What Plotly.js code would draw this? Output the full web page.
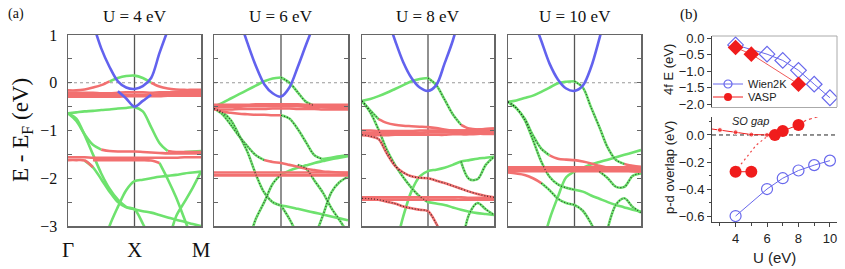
<!DOCTYPE html>
<html><head><meta charset="utf-8">
<script src="https://cdn.plot.ly/plotly-3.0.1.min.js"></script>
<style>html,body{margin:0;padding:0;background:#fff}#g{width:845px;height:269px}</style>
</head><body><div id="g"></div>
<script>
const _ = null;
// k-path grid: Γ=0, X=1, M=2
const K = [0,0.125,0.25,0.375,0.5,0.625,0.75,0.875,1,1.125,1.25,1.375,1.5,1.625,1.75,1.875,2];
const kLabels = ['Γ','X','M'];
const panelTitles = ['U = 4 eV','U = 6 eV','U = 8 eV','U = 10 eV'];
const eTicks = [-3,-2,-1,0,1];

// ---------- U = 4 eV ----------
const u4Blue = [
 [_,_,_,1.25,0.72,0.33,0.03,-0.10,-0.13,-0.07,0.10,0.62,1.10,_,_,_,_],
 [_,_,_,_,_,_,-0.18,-0.33,-0.50,-0.38,-0.25,_,_,_,_,_,_]
];
const u4Green = [
 [_,_,_,_,_,0.03,0.10,0.14,0.15,0.10,0.00,_,_,_,_,_,_],
 [-0.64,-0.62,-0.60,-0.59,-0.57,-0.56,-0.54,-0.53,-0.51,-0.60,-0.93,-1.26,-1.43,_,_,_,_],
 [-0.64,-0.80,-1.08,-1.30,-1.40,_,_,_,_,_,_,_,_,_,_,_,_],
 [_,_,_,_,_,_,_,_,_,_,_,-1.68,-2.02,-2.40,-2.85,-3.30,_],
 [_,_,-1.63,-1.77,-2.02,-2.28,-2.50,-2.61,-2.65,-2.69,-2.72,-2.77,-2.82,-2.87,-2.91,-2.96,-3.00],
 [-0.64,-0.75,-1.10,-1.50,-1.90,-2.22,-2.45,-2.60,-2.65,-2.95,-3.30,_,_,_,_,_,_],
 [_,_,_,_,-3.60,-3.00,-2.60,-2.25,-2.06,-2.03,-2.00,-1.97,-1.95,-1.93,-1.90,-1.88,-1.86],
 [_,_,_,_,_,_,_,_,_,_,_,_,-3.40,-2.80,-2.50,-2.20,-1.86],
 [_,_,_,_,_,_,_,_,_,_,_,_,_,_,-1.45,-1.44,-1.43]
];
const u4Red = [
 [-0.16,-0.16,-0.14,-0.10,-0.05,0.03,_,_,_,_,_,_,_,_,_,_,_],
 [_,_,_,_,_,_,_,_,_,_,0.00,-0.08,-0.12,-0.14,-0.15,-0.15,-0.15],
 [-0.21,-0.21,-0.21,-0.21,-0.22,-0.22,-0.21,-0.20,-0.20,-0.20,-0.21,-0.20,-0.20,-0.19,-0.19,-0.19,-0.19],
 [-0.25,-0.25,-0.25,-0.26,-0.26,-0.26,-0.25,-0.25,-0.25,-0.25,-0.25,-0.24,-0.24,-0.24,-0.24,-0.23,-0.23],
 [-0.29,-0.29,-0.29,-0.29,-0.29,-0.29,-0.29,-0.28,-0.28,-0.28,-0.28,-0.28,-0.27,-0.27,-0.27,-0.27,-0.27],
 [_,_,_,_,_,_,_,_,_,_,_,_,-1.43,-1.45,-1.45,-1.45,-1.45],
 [_,_,_,_,-1.40,-1.43,-1.44,-1.44,-1.44,-1.45,-1.46,-1.47,-1.48,-1.48,-1.48,-1.48,-1.48],
 [-1.56,-1.56,-1.56,-1.57,-1.57,-1.57,-1.57,-1.57,-1.57,-1.57,-1.57,-1.57,-1.57,-1.57,-1.56,-1.56,-1.56],
 [_,_,_,-1.62,-1.62,-1.62,-1.62,-1.62,-1.62,-1.62,-1.63,-1.68,_,_,_,_,_],
 [-1.62,-1.62,-1.63,-1.77,_,_,_,_,_,_,_,_,_,_,_,_,_]
];

// ---------- U = 6 eV ----------
const u6Blue = [
 [_,_,_,1.35,0.83,0.35,-0.03,-0.22,-0.29,-0.10,0.33,0.80,1.25,_,_,_,_]
];
const u6Green = [
 [-0.50,-0.42,-0.33,-0.24,-0.15,-0.06,0.03,0.09,0.11,_,_,_,_,_,_,_,_],
 [_,_,_,_,_,_,_,_,_,_,_,_,_,-1.60,-1.57,-1.54,-1.52],
 [_,_,_,_,_,_,_,_,-2.57,-2.60,-2.64,-2.68,-2.72,-2.76,-2.80,-2.84,-2.88],
 [_,_,_,_,_,_,_,_,-1.92,-1.84,-1.78,-1.73,-1.68,-1.64,-1.60,-1.57,-1.54]
];
const u6Dark = [
 [_,_,_,_,_,_,_,_,0.11,0.00,-0.20,-0.40,-0.48,_,_,_,_],
 [_,_,_,_,_,_,_,_,-0.68,-0.75,-0.97,-1.25,-1.52,-1.60,_,_,_],
 [-0.54,-0.66,-0.88,-1.12,-1.33,-1.52,-1.62,_,_,_,_,_,_,_,_,_,_],
 [-0.54,-0.62,-0.78,-1.10,-1.45,-1.92,-2.30,-2.50,-2.57,_,_,_,_,_,_,_,_],
 [_,_,_,_,-3.40,-2.85,-2.50,-2.12,-1.92,_,_,_,_,_,_,_,_],
 [_,_,_,_,_,_,_,_,_,_,_,_,-3.25,-2.78,-2.30,-2.08,-1.97],
 [_,_,_,_,_,_,_,_,-2.57,-2.85,-3.20,_,_,_,_,_,_],
 [_,_,_,_,_,_,_,_,_,_,-1.72,-1.80,-2.05,-2.30,-2.62,-2.88,-3.15]
];
const u6Red = [
 [_,_,_,_,_,_,_,_,_,_,_,_,-0.48,-0.51,-0.52,-0.52,-0.52],
 [-0.46,-0.46,-0.46,-0.46,-0.46,-0.45,-0.45,-0.45,-0.45,-0.45,-0.45,-0.46,-0.46,-0.46,-0.46,-0.46,-0.46],
 [-0.50,-0.50,-0.50,-0.50,-0.49,-0.49,-0.49,-0.49,-0.49,-0.49,-0.49,-0.50,-0.50,-0.50,-0.50,-0.50,-0.50],
 [-0.56,-0.56,-0.56,-0.55,-0.55,-0.55,-0.55,-0.54,-0.54,-0.54,-0.55,-0.55,-0.55,-0.56,-0.56,-0.56,-0.56],
 [-0.54,-0.60,-0.63,-0.65,-0.66,-0.67,-0.67,-0.68,-0.68,_,_,_,_,_,_,_,_],
 [_,_,_,_,_,_,-1.62,-1.66,-1.68,-1.72,-1.76,-1.80,-1.83,-1.86,-1.87,-1.88,-1.89],
 [-1.88,-1.88,-1.88,-1.88,-1.88,-1.88,-1.88,-1.88,-1.88,-1.88,-1.88,-1.88,-1.88,-1.88,-1.88,-1.88,-1.88],
 [-1.94,-1.94,-1.94,-1.94,-1.94,-1.94,-1.94,-1.94,-1.94,-1.94,-1.94,-1.94,-1.94,-1.94,-1.94,-1.94,-1.94]
];

// ---------- U = 8 eV ----------
const u8Blue = [
 [_,_,_,1.40,0.89,0.43,0.10,-0.10,-0.17,-0.05,0.40,0.88,1.50,_,_,_,_]
];
const u8Green = [
 [-0.38,-0.34,-0.28,-0.21,-0.13,-0.05,0.03,0.08,0.10,_,_,_,_,_,_,_,_],
 [_,_,_,_,_,_,_,_,-2.50,-2.53,-2.56,-2.61,-2.66,-2.70,-2.73,-2.75,-2.77],
 [_,_,_,_,-3.50,-2.80,-2.27,-1.96,-1.85,-1.82,-1.78,-1.72,-1.65,-1.62,-1.59,-1.57,-1.55]
];
const u8Dark = [
 [_,_,_,_,_,_,_,_,0.10,-0.05,-0.35,-0.66,-0.88,_,_,_,_],
 [-0.38,-0.58,-0.76,_,_,_,_,_,_,_,_,_,_,_,_,_,_],
 [-0.38,-0.62,-0.98,-1.40,-1.72,-1.98,-2.20,-2.38,-2.50,_,_,_,_,_,_,_,_],
 [_,_,_,_,_,_,_,_,_,_,_,_,-1.65,-2.02,-2.02,-1.72,-1.55],
 [_,_,_,_,_,_,_,_,_,_,_,_,-3.50,-2.75,-2.52,-2.65,-2.77]
];
const u8DarkRed = [
 [-1.09,-1.12,-1.18,-1.48,-1.74,-1.88,-1.96,-1.99,-2.00,-2.05,-2.10,-2.16,-2.22,-2.28,-2.33,-2.37,-2.40],
 [-2.42,-2.43,-2.45,-2.49,-2.53,-2.59,-2.63,-2.66,-2.69,-2.95,-3.30,_,_,_,_,_,_]
];
const u8Red = [
 [_,_,_,_,_,_,_,_,_,_,_,_,-0.88,-0.96,-0.98,-0.97,-0.96],
 [_,_,-0.76,-0.84,-0.88,-0.90,-0.91,-0.92,-0.93,-0.95,-0.98,-1.00,-1.00,-0.99,-0.98,-0.97,-0.96],
 [-1.00,-1.00,-1.01,-1.01,-1.01,-1.01,-1.01,-1.00,-1.00,-1.00,-1.00,-1.00,-1.00,-1.00,-0.99,-0.99,-0.99],
 [-1.05,-1.05,-1.05,-1.05,-1.05,-1.05,-1.05,-1.05,-1.04,-1.04,-1.04,-1.04,-1.04,-1.03,-1.03,-1.03,-1.03],
 [-1.10,-1.10,-1.10,-1.10,-1.09,-1.09,-1.09,-1.09,-1.09,-1.09,-1.09,-1.08,-1.08,-1.08,-1.07,-1.07,-1.07],
 [-2.40,-2.40,-2.40,-2.40,-2.40,-2.40,-2.40,-2.40,-2.40,-2.40,-2.40,-2.40,-2.40,-2.41,-2.41,-2.41,-2.41],
 [-2.45,-2.45,-2.45,-2.45,-2.45,-2.45,-2.45,-2.45,-2.45,-2.45,-2.45,-2.45,-2.45,-2.45,-2.45,-2.45,-2.45]
];

// ---------- U = 10 eV ----------
const u10Blue = [
 [_,_,_,1.35,0.88,0.40,0.07,-0.12,-0.17,-0.06,0.33,0.93,1.60,_,_,_,_]
];
const u10Green = [
 [-0.40,-0.37,-0.32,-0.27,-0.19,-0.10,-0.01,0.02,0.03,_,_,_,_,_,_,_,_],
 [_,_,_,_,_,_,_,_,-2.24,-2.28,-2.36,-2.43,-2.50,-2.56,-2.61,-2.66,-2.70],
 [_,_,_,_,-3.50,-2.86,-2.39,-1.98,-1.86,-1.78,-1.71,-1.66,-1.61,-1.56,-1.51,-1.46,-1.41]
];
const u10Dark = [
 [_,_,_,_,_,_,_,_,0.03,-0.10,-0.52,-0.93,-1.36,-1.62,-1.70,_,_],
 [-0.40,-0.53,-0.75,-1.10,-1.38,-1.52,_,_,_,_,_,_,_,_,_,_,_],
 [-0.40,-0.53,-0.78,-1.20,-1.65,-1.97,-2.13,-2.20,-2.24,_,_,_,_,_,_,_,_],
 [_,_,_,_,-2.10,-2.25,-2.43,-2.52,-2.56,-2.68,-2.95,-3.30,_,_,_,_,_],
 [_,_,_,_,_,_,_,_,_,_,_,-1.86,-2.00,-2.18,-2.18,-1.95,-1.90],
 [_,_,_,_,_,_,_,_,_,_,_,_,-3.05,-2.55,-2.42,-2.60,-2.72]
];
const u10Red = [
 [_,_,_,_,_,_,_,_,_,_,_,_,_,_,-1.70,-1.74,-1.76],
 [_,_,_,_,_,-1.52,-1.59,-1.61,-1.62,-1.65,-1.69,-1.74,-1.78,-1.81,-1.83,-1.85,-1.86],
 [-1.88,-1.90,-1.93,-2.00,-2.10,_,_,_,_,_,_,_,_,_,_,_,_],
 [-1.77,-1.77,-1.77,-1.77,-1.77,-1.77,-1.77,-1.77,-1.77,-1.77,-1.77,-1.77,-1.77,-1.77,-1.77,-1.77,-1.77],
 [-1.81,-1.81,-1.81,-1.81,-1.81,-1.81,-1.81,-1.81,-1.81,-1.81,-1.81,-1.81,-1.81,-1.81,-1.81,-1.81,-1.81],
 [-1.85,-1.85,-1.85,-1.85,-1.85,-1.85,-1.85,-1.85,-1.85,-1.85,-1.85,-1.85,-1.85,-1.85,-1.85,-1.85,-1.85]
];

// ---------- panel (b) ----------
const wien4fU = [4,6,7,8,9,10];
const wien4fE = [-0.20,-0.48,-0.67,-0.97,-1.39,-1.80];
const vasp4fU = [4,5,8];
const vasp4fE = [-0.28,-0.48,-1.39];
const wienPdU = [4,6,7,8,9,10];
const wienPdE = [-0.60,-0.40,-0.32,-0.263,-0.223,-0.19];
const vaspPdU1 = [4,5];
const vaspPdE1 = [-0.272,-0.272];
const vaspPdU2 = [6.5,7,8];
const vaspPdE2 = [0.0,0.03,0.074];
const vaspDotU1 = [4.15,4.68,5.32,6.0,6.5];
const vaspDotE1 = [-0.245,-0.17,-0.074,-0.012,0.0];
const vaspDotU2 = [8,8.5,9.7];
const vaspDotE2 = [0.074,0.11,0.152];
const soGapU = [2.5,3,4,5,6,6.5];
const soGapE = [0.044,0.037,0.02,0.003,0.0,0.0];
const soGapSize = [0,5,5,5,5,0];
const legendNames = ['Wien2K','VASP'];

const G = 'rgb(110,226,110)', R = 'rgb(242,112,112)', B = 'rgb(98,98,238)';
const BLUEB = 'rgb(104,104,236)', REDB = 'rgb(240,28,28)';
const SERIF = 'Liberation Serif, Times New Roman, serif';
const SANS = 'Liberation Sans, Arial, sans-serif';

const traces = [];
function bandTrace(xa, ya, vals, color, w) {
  return {type:'scatter', mode:'lines', x:K, y:vals, xaxis:xa, yaxis:ya,
    line:{color:color, width:w, shape:'spline', smoothing:0.9},
    connectgaps:false, showlegend:false, hoverinfo:'skip'};
}
function dotTrace(xa, ya, vals) {
  return {type:'scatter', mode:'lines', x:K, y:vals, xaxis:xa, yaxis:ya,
    line:{color:'rgba(20,20,20,0.75)', width:1.2, dash:'1px,2px', shape:'spline', smoothing:0.9},
    connectgaps:false, showlegend:false, hoverinfo:'skip'};
}
const panels = [
  {xa:'x', ya:'y', green:u4Green, dark:[], red:u4Red, darkRed:[], blue:u4Blue},
  {xa:'x2', ya:'y2', green:u6Green, dark:u6Dark, red:u6Red, darkRed:[], blue:u6Blue},
  {xa:'x3', ya:'y3', green:u8Green, dark:u8Dark, red:u8Red, darkRed:u8DarkRed, blue:u8Blue},
  {xa:'x4', ya:'y4', green:u10Green, dark:u10Dark, red:u10Red, darkRed:[], blue:u10Blue}
];
panels.forEach(p => {
  p.green.forEach(v => traces.push(bandTrace(p.xa, p.ya, v, G, 2.6)));
  p.dark.forEach(v => traces.push(bandTrace(p.xa, p.ya, v, G, 2.6)));
  p.red.forEach(v => traces.push(bandTrace(p.xa, p.ya, v, R, 2.6)));
  p.darkRed.forEach(v => traces.push(bandTrace(p.xa, p.ya, v, R, 2.6)));
  p.dark.forEach(v => traces.push(dotTrace(p.xa, p.ya, v)));
  p.darkRed.forEach(v => traces.push(dotTrace(p.xa, p.ya, v)));
  p.blue.forEach(v => traces.push(bandTrace(p.xa, p.ya, v, B, 2.6)));
});

// panel (b) top
traces.push({type:'scatter', mode:'lines+markers', x:wien4fU, y:wien4fE, xaxis:'x5', yaxis:'y5',
  line:{color:BLUEB, width:1}, marker:{symbol:'diamond-open', size:12, color:BLUEB, line:{width:1.2}},
  showlegend:false, hoverinfo:'skip'});
traces.push({type:'scatter', mode:'lines+markers', x:vasp4fU, y:vasp4fE, xaxis:'x5', yaxis:'y5',
  line:{color:'rgb(240,90,90)', width:1}, marker:{symbol:'diamond', size:12, color:REDB},
  showlegend:false, hoverinfo:'skip'});
// panel (b) bottom
traces.push({type:'scatter', mode:'lines', x:vaspDotU1, y:vaspDotE1, xaxis:'x6', yaxis:'y6',
  line:{color:'rgb(240,70,70)', width:1.2, dash:'2px,3px'}, showlegend:false, hoverinfo:'skip'});
traces.push({type:'scatter', mode:'lines', x:vaspDotU2, y:vaspDotE2, xaxis:'x6', yaxis:'y6',
  line:{color:'rgb(240,70,70)', width:1.2, dash:'3px,3px'}, showlegend:false, hoverinfo:'skip'});
traces.push({type:'scatter', mode:'lines+markers', x:soGapU, y:soGapE, xaxis:'x6', yaxis:'y6',
  line:{color:REDB, width:1}, marker:{size:soGapSize, color:REDB}, showlegend:false, hoverinfo:'skip'});
traces.push({type:'scatter', mode:'lines+markers', x:vaspPdU1, y:vaspPdE1, xaxis:'x6', yaxis:'y6',
  line:{color:REDB, width:1}, marker:{size:12, color:REDB}, showlegend:false, hoverinfo:'skip'});
traces.push({type:'scatter', mode:'lines+markers', x:wienPdU, y:wienPdE, xaxis:'x6', yaxis:'y6',
  line:{color:BLUEB, width:1}, marker:{symbol:'circle-open', size:11, color:BLUEB, line:{width:1.2}},
  showlegend:false, hoverinfo:'skip'});
traces.push({type:'scatter', mode:'lines+markers', x:vaspPdU2, y:vaspPdE2, xaxis:'x6', yaxis:'y6',
  line:{color:REDB, width:1}, marker:{size:12, color:REDB}, showlegend:false, hoverinfo:'skip'});
// legend-only entries (smaller symbols, like the reference legend)
traces.push({type:'scatter', mode:'lines+markers', x:[null], y:[null], xaxis:'x6', yaxis:'y6',
  name:legendNames[0], legend:'legend', showlegend:true, hoverinfo:'skip',
  line:{color:BLUEB, width:1}, marker:{symbol:'circle-open', size:8, color:BLUEB, line:{width:1.2}}});
traces.push({type:'scatter', mode:'lines+markers', x:[null], y:[null], xaxis:'x6', yaxis:'y6',
  name:legendNames[1], legend:'legend2', showlegend:true, hoverinfo:'skip',
  line:{color:REDB, width:1}, marker:{size:8, color:REDB}});

const W = 845, H = 269;
const px = v => v / W, py = v => 1 - v / H;
const bandX = [[68,201],[214,348],[362,494],[508,641]];
const layout = {
  width:W, height:H, margin:{l:0,r:0,t:0,b:0},
  paper_bgcolor:'#fff', plot_bgcolor:'rgba(0,0,0,0)',
  showlegend:true,
  legend:{x:px(708), y:py(84), xanchor:'left', yanchor:'middle', bgcolor:'rgba(0,0,0,0)',
    font:{family:SANS, size:11, color:'#222'}, itemwidth:30, tracegroupgap:0},
  legend2:{x:px(708), y:py(97), xanchor:'left', yanchor:'middle', bgcolor:'rgba(0,0,0,0)',
    font:{family:SANS, size:11, color:'#222'}, itemwidth:30, tracegroupgap:0},
  shapes:[], annotations:[]
};
bandX.forEach((b, i) => {
  const sx = i === 0 ? '' : String(i + 1);
  layout['xaxis' + sx] = {domain:[px(b[0]), px(b[1])], range:[0,2], anchor:'y' + sx,
    showgrid:false, zeroline:false, showline:true, mirror:true, linecolor:'#666', linewidth:1.5,
    ticks:'', tickmode:'array', tickvals:[0,1,2], ticktext:kLabels, showticklabels:i === 0,
    tickfont:{family:SERIF, size:21, color:'#111'}, ticklabelstandoff:4};
  layout['yaxis' + sx] = {domain:[1 - 226/H, 1 - 35/H], range:[-3,1], anchor:'x' + sx,
    showgrid:false, zeroline:false, showline:true, mirror:'ticks', linecolor:'#666', linewidth:1.5,
    ticks:'inside', ticklen:4, tickcolor:'#666', tickwidth:1,
    tickmode:'array', tickvals:eTicks, showticklabels:i === 0,
    minor:{dtick:0.5, tick0:0, ticks:'inside', ticklen:4, tickcolor:'#666', tickwidth:1},
    tickfont:{family:SERIF, size:16, color:'#111'}, ticklabelstandoff:6};
  layout.shapes.push({type:'line', xref:'x' + sx, yref:'y' + sx, x0:0, x1:2, y0:0, y1:0,
    line:{color:'#999', width:1, dash:'dot'}, layer:'below'});
  layout.shapes.push({type:'line', xref:'x' + sx, yref:'y' + sx, x0:1, x1:1, y0:-3, y1:1,
    line:{color:'#555', width:1.3}, layer:'below'});
  layout.annotations.push({xref:'paper', yref:'paper', x:px((b[0] + b[1]) / 2), y:py(17),
    text:panelTitles[i], showarrow:false, xanchor:'center', yanchor:'middle',
    font:{family:SERIF, size:17, color:'#111'}});
});
// panel (b) axes
layout.xaxis5 = {domain:[px(712), px(837)], range:[2.5,10.45], anchor:'y5', showgrid:false, zeroline:false,
  showline:true, linecolor:'#aaa', linewidth:1, ticks:'', showticklabels:false};
layout.yaxis5 = {domain:[1 - 107/H, 1 - 36/H], range:[-2.08,0.07], anchor:'x5', showgrid:false, zeroline:false,
  showline:true, linecolor:'#444', linewidth:1, ticks:'outside', ticklen:4, tickcolor:'#444',
  dtick:0.5, tick0:0, tickformat:'.1f', tickfont:{family:SANS, size:13, color:'#222'}};
layout.xaxis6 = {domain:[px(712), px(837)], range:[2.5,10.45], anchor:'y6', showgrid:false, zeroline:false,
  showline:true, linecolor:'#444', linewidth:1, ticks:'outside', ticklen:4, tickcolor:'#444',
  dtick:2, tick0:0, minor:{dtick:1, tick0:0, ticks:'outside', ticklen:3, tickcolor:'#444'},
  tickfont:{family:SANS, size:13, color:'#222'}};
layout.yaxis6 = {domain:[1 - 222/H, 1 - 117/H], range:[-0.644,0.133], anchor:'x6', showgrid:false, zeroline:false,
  showline:true, linecolor:'#444', linewidth:1, ticks:'outside', ticklen:4, tickcolor:'#444',
  dtick:0.2, tick0:0, tickformat:'.1f', minor:{dtick:0.1, tick0:0, ticks:'outside', ticklen:2, tickcolor:'#444'},
  tickfont:{family:SANS, size:13, color:'#222'}};
layout.shapes.push({type:'line', xref:'x5 domain', yref:'y5 domain', x0:0, x1:1, y0:1, y1:1, line:{color:'#aaa', width:1}});
layout.shapes.push({type:'line', xref:'x5 domain', yref:'y5 domain', x0:1, x1:1, y0:0, y1:1, line:{color:'#aaa', width:1}});
layout.shapes.push({type:'line', xref:'x6 domain', yref:'y6', x0:0, x1:1, y0:0, y1:0, line:{color:'#222', width:1, dash:'4px,3px'}, layer:'below'});

layout.annotations.push(
  {xref:'paper', yref:'paper', x:px(6), y:py(14), xanchor:'left', yanchor:'middle', text:'(a)', showarrow:false,
   font:{family:SERIF, size:14, color:'#111'}},
  {xref:'paper', yref:'paper', x:px(678), y:py(15), xanchor:'left', yanchor:'middle', text:'(b)', showarrow:false,
   font:{family:SERIF, size:15, color:'#111'}},
  {xref:'paper', yref:'paper', x:px(22), y:py(130), xanchor:'center', yanchor:'middle', textangle:-90,
   text:'E - E<sub>F</sub> (eV)', showarrow:false, font:{family:SERIF, size:23, color:'#111'}},
  {xref:'paper', yref:'paper', x:px(669), y:py(70), xanchor:'center', yanchor:'middle', textangle:-90,
   text:'4f E (eV)', showarrow:false, font:{family:SANS, size:13, color:'#222'}},
  {xref:'paper', yref:'paper', x:px(669), y:py(168), xanchor:'center', yanchor:'middle', textangle:-90,
   text:'p-d overlap (eV)', showarrow:false, font:{family:SANS, size:13, color:'#222'}},
  {xref:'paper', yref:'paper', x:px(774), y:py(257), xanchor:'center', yanchor:'middle',
   text:'U (eV)', showarrow:false, font:{family:SANS, size:15, color:'#222'}},
  {xref:'paper', yref:'paper', x:px(730), y:py(121), xanchor:'left', yanchor:'middle',
   text:'<i>SO gap</i>', showarrow:false, font:{family:SANS, size:11, color:'#222'}}
);

Plotly.newPlot('g', traces, layout, {staticPlot:true, displayModeBar:false});
</script></body></html>
